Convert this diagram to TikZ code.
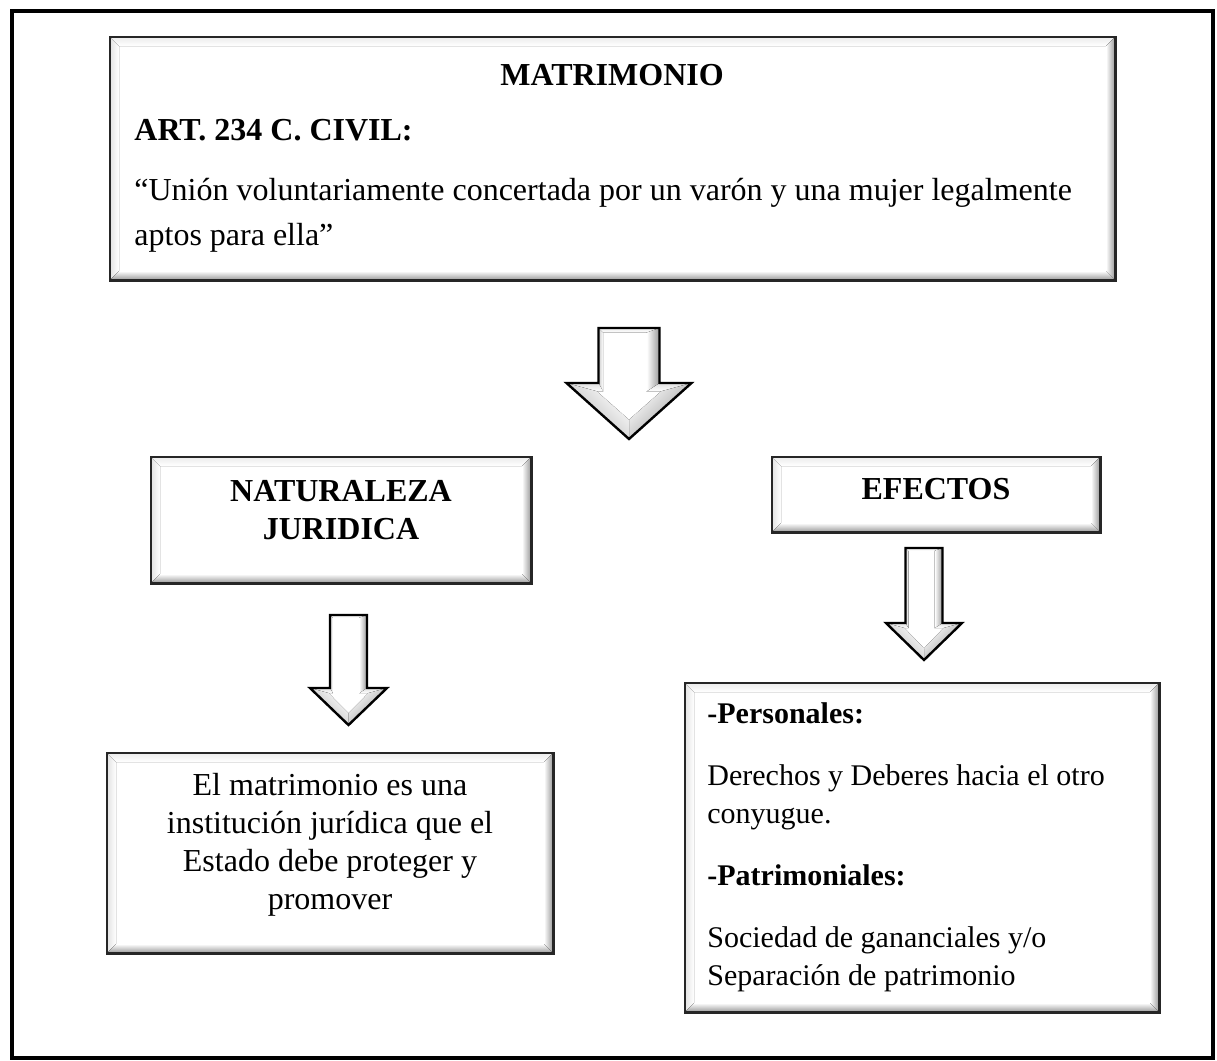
\documentclass[tikz,border=0pt]{standalone}
\usepackage{fontspec}
\setmainfont{Liberation Serif}
\tikzset{
  boxline/.style={draw=black!85, line width=1.1pt},
  arrline/.style={draw=black, line width=1.2pt, line join=miter},
  hd/.style={inner sep=0pt, font=\fontsize{16}{19}\selectfont\bfseries},
  txtL/.style={inner sep=0pt, font=\fontsize{16}{19}\selectfont},
  txt/.style={inner sep=0pt, font=\fontsize{15}{18}\selectfont},
  bh/.style={inner sep=0pt, font=\fontsize{15}{18}\selectfont\bfseries},
}
% name, L, T, R, B (pixel coordinates, y downward)
\newcommand\bevbox[5]{%
  \node[fill=white, inner sep=0pt, minimum width={(#4-#2)*0.5pt}, minimum height={(#5-#3)*0.5pt}] (#1) at ({(#2+#4)/2},{(#3+#5)/2}) {};
  \fill[left color=gray!22, right color=white] (#2,#3) -- (#2+9,#3+9) -- (#2+9,#5-9) -- (#2,#5) -- cycle;
  \fill[top color=gray!15, bottom color=white] (#2,#3) -- (#4,#3) -- (#4-9,#3+9) -- (#2+9,#3+9) -- cycle;
  \fill[left color=white, right color=gray!80] (#4,#3) -- (#4,#5) -- (#4-9,#5-9) -- (#4-9,#3+9) -- cycle;
  \fill[top color=white, bottom color=gray!80] (#2,#5) -- (#4,#5) -- (#4-9,#5-9) -- (#2+9,#5-9) -- cycle;
  \draw[boxline] (#1.north west) rectangle (#1.south east);
}
% cx, top, shoulder, tip, shaft half width, head half width
\newcommand\bigarrow[6]{%
  \pgfmathsetmacro\ar{0.42*#5}\pgfmathsetmacro\al{0.15*#5}\pgfmathsetmacro\aq{0.22*#6}%
  \coordinate (pA) at (#1-#5,#2);
  \coordinate (pB) at (#1+#5,#2);
  \coordinate (pC) at (#1+#5,#3);
  \coordinate (pD) at (#1+#6,#3);
  \coordinate (pE) at (#1,#4);
  \coordinate (pF) at (#1-#6,#3);
  \coordinate (pG) at (#1-#5,#3);
  \coordinate (qA) at (#1-#5+\al,#2+\al);
  \coordinate (qB) at (#1+#5-\ar,#2+\al);
  \coordinate (qC) at (#1+#5-\ar,#3+0.6*\aq);
  \coordinate (qD) at (#1+#6-2.2*\aq,#3+0.6*\aq);
  \coordinate (qE) at (#1,#4-1.4*\aq);
  \coordinate (qF) at (#1-#6+2.2*\aq,#3+0.6*\aq);
  \coordinate (qG) at (#1-#5+\al,#3+0.6*\aq);
  \fill[white] (pA)--(pB)--(pC)--(pD)--(pE)--(pF)--(pG)--cycle;
  \fill[top color=gray!15, bottom color=white] (pA)--(pB)--(qB)--(qA)--cycle;
  \fill[left color=gray!40, right color=white] (pA)--(qA)--(qG)--(pG)--cycle;
  \fill[top color=gray!25, bottom color=white] (pC)--(pD)--(qD)--(qC)--cycle;
  \fill[top color=gray!25, bottom color=white] (pG)--(pF)--(qF)--(qG)--cycle;
  \fill[left color=white, right color=gray!80] (pB)--(pC)--(qC)--(qB)--cycle;
  \fill[top color=white, bottom color=gray!85, shading angle=45] (pD)--(pE)--(qE)--(qD)--cycle;
  \fill[top color=white, bottom color=gray!60, shading angle=-45] (pF)--(pE)--(qE)--(qF)--cycle;
  \draw[arrline] (pA)--(pB)--(pC)--(pD)--(pE)--(pF)--(pG)--cycle;
}
\begin{document}
\begin{tikzpicture}[x=0.5pt,y=-0.5pt]
\useasboundingbox (0,0) rectangle (1217,1061);
\fill[white] (0,0) rectangle (1217,1061);
\draw[line width=2.3pt] (12,11) rectangle (1213,1058);

% top box
\bevbox{top}{110}{37}{1115}{280}
\node[hd, anchor=base] (t1) at (612,85) {MATRIMONIO};
\node[hd, anchor=base west] (t2) at (134,140) {ART. 234 C. CIVIL:};
\node[txtL, anchor=base west] (t3) at (134,200) {“Unión voluntariamente concertada por un varón y una mujer legalmente};
\node[txtL, anchor=base west] (t4) at (134,245) {aptos para ella”};

% central arrow
\bigarrow{629}{328}{383}{439}{30.5}{62.5}

% naturaleza
\bevbox{nat}{151}{457}{531}{583}
\node[hd, anchor=base] (n1) at (341,501) {NATURALEZA};
\node[hd, anchor=base] (n2) at (341,539) {JURIDICA};

% efectos
\bevbox{efe}{772}{457}{1100}{532}
\node[hd, anchor=base] (e1) at (936,499) {EFECTOS};

% small arrows
\bigarrow{348.5}{615}{688}{725}{18.5}{38.5}
\bigarrow{924}{548}{623}{660}{18.5}{38}

% bottom left box
\bevbox{bl}{107}{753}{553}{953}
\node[txtL, anchor=base] (b1) at (330,795) {El matrimonio es una};
\node[txtL, anchor=base] (b2) at (330,833) {institución jurídica que el};
\node[txtL, anchor=base] (b3) at (330,871) {Estado debe proteger y};
\node[txtL, anchor=base] (b4) at (330,909) {promover};

% bottom right box
\bevbox{br}{685}{683}{1159}{1012}
\node[bh, anchor=base west] (r1) at (707,723) {-Personales:};
\node[txt, anchor=base west] (r2) at (707,785) {Derechos y Deberes hacia el otro};
\node[txt, anchor=base west] (r3) at (707,823) {conyugue.};
\node[bh, anchor=base west] (r4) at (707,885) {-Patrimoniales:};
\node[txt, anchor=base west] (r5) at (707,947) {Sociedad de gananciales y/o};
\node[txt, anchor=base west] (r6) at (707,985) {Separación de patrimonio};
\end{tikzpicture}
\end{document}
